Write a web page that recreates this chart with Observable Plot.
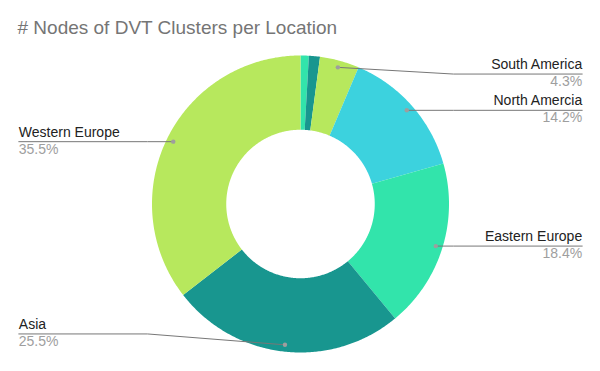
<!DOCTYPE html>
<html><head><meta charset="utf-8">
<script src="https://cdn.jsdelivr.net/npm/d3@7"></script>
<script src="https://cdn.jsdelivr.net/npm/@observablehq/plot@0.6"></script>
<style>body{margin:0;background:#fff;}</style>
</head><body><div id="chart"></div>
<script>
const title = "# Nodes of DVT Clusters per Location";
const locations = ["Other A", "Other B", "South America", "North Amercia", "Eastern Europe", "Asia", "Western Europe"];
const shares = [0.9, 1.2, 4.3, 14.2, 18.4, 25.5, 35.5];
const labelled = [false, false, true, true, true, true, true];
const colors = ["#32e4ab", "#18968f", "#b7e85d", "#3cd2de", "#32e4ab", "#18968f", "#b7e85d"];

// layout constants (in units of the outer radius)
const W = 600, H = 371, R = 148.5, CX = 300, CY = 203.5;
const inner = 0.5, rDot = 0.954, band = 0.875, elbow = 1.03, lineEnd = 1.897;

const total = d3.sum(shares);
const pie = d3.pie().sort(null).value(d => d)(shares);
const pt = (r, a) => [r * Math.sin(a), r * Math.cos(a)];

const polys = [];
pie.forEach((p, i) => {
  const n = Math.max(4, Math.ceil((p.endAngle - p.startAngle) / 0.01));
  const pts = [];
  for (let k = 0; k <= n; k++) pts.push(pt(1, p.startAngle + (p.endAngle - p.startAngle) * k / n));
  for (let k = n; k >= 0; k--) pts.push(pt(inner, p.startAngle + (p.endAngle - p.startAngle) * k / n));
  pts.forEach(([x, y]) => polys.push({name: locations[i], color: colors[i], x, y}));
});

const labels = [];
const leaders = [];
pie.forEach((p, i) => {
  if (!labelled[i]) return;
  const mid = (p.startAngle + p.endAngle) / 2;
  const [dx, dy] = pt(rDot, mid);
  const side = dx >= 0 ? 1 : -1;
  const ly = Math.max(-band, Math.min(band, dy));
  labels.push({name: locations[i], pct: d3.format(".1%")(shares[i] / total), dx, dy, x: side * lineEnd, y: ly, side});
  leaders.push({name: locations[i], x: dx, y: dy});
  leaders.push({name: locations[i], x: side * elbow, y: ly});
  leaders.push({name: locations[i], x: side * lineEnd, y: ly});
});
const rightL = labels.filter(d => d.side > 0);
const leftL = labels.filter(d => d.side < 0);

const font = "'Liberation Sans', Arial, sans-serif";
const nameOpts = {x: "x", y: "y", text: "name", lineAnchor: "bottom", dy: -5, fontSize: 14, fill: "#222"};
const pctOpts = {x: "x", y: "y", text: "pct", lineAnchor: "bottom", dy: 12, fontSize: 14, fill: "#9e9e9e"};
const chart = Plot.plot({
  width: W, height: H,
  marginTop: 0, marginRight: 0, marginBottom: 0, marginLeft: 0,
  style: {fontFamily: font, background: "#fff"},
  x: {domain: [-CX / R, (W - CX) / R], axis: null},
  y: {domain: [-(H - CY) / R, CY / R], axis: null},
  color: {type: "identity"},
  marks: [
    Plot.line(polys, {x: "x", y: "y", z: "name", fill: "color", stroke: "none", curve: "linear"}),
    Plot.line(leaders, {x: "x", y: "y", z: "name", stroke: "#777", strokeWidth: 1}),
    Plot.dot(labels, {x: "dx", y: "dy", r: 2.2, fill: "#9e9e9e", stroke: "none"}),
    Plot.text(rightL, {...nameOpts, textAnchor: "end"}),
    Plot.text(leftL, {...nameOpts, textAnchor: "start"}),
    Plot.text(rightL, {...pctOpts, textAnchor: "end"}),
    Plot.text(leftL, {...pctOpts, textAnchor: "start"}),
    Plot.text([title], {frameAnchor: "top-left", text: d => d, textAnchor: "start", lineAnchor: "bottom", dx: 17, dy: 33, fontSize: 19, fill: "#757575"})
  ]
});
document.getElementById("chart").append(chart);
</script>
</body></html>
